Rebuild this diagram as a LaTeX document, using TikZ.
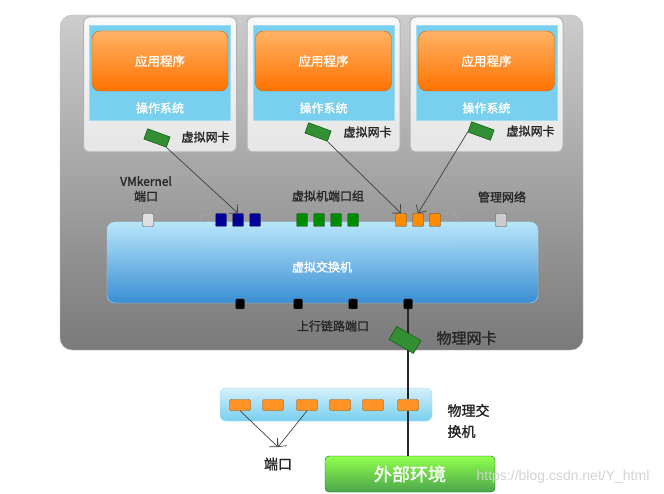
\documentclass[tikz,border=0pt]{standalone}
\usepackage{fontspec}
\setmainfont{Liberation Sans}
\newfontfamily\cjk[FakeBold=1.5]{Noto Sans CJK SC}
\newfontfamily\cjkr{Noto Sans CJK SC}
\usetikzlibrary{arrows.meta,shapes.geometric}
\definecolor{osc}{HTML}{78CFEE}
\definecolor{swtop}{HTML}{B8E6FA}
\definecolor{swbot}{HTML}{3A8ED3}
\definecolor{hostc}{HTML}{7A7A7A}
\begin{document}
\begin{tikzpicture}[x=1pt,y=-1pt,
  every node/.style={font=\cjk\fontsize{12}{14}\selectfont},
  vmbox/.style={draw=gray!60,line width=1pt,rounded corners=6pt,top color=white!95!gray,bottom color=gray!20},
  osbox/.style={fill=osc,draw=osc!70},
  appbox/.style={draw=orange!80!black,rounded corners=8pt,top color=orange!60,bottom color=orange!90!red,text=white,font=\cjk\fontsize{12.5}{14}\selectfont},
  port/.style={draw=black!70,rounded corners=1pt,minimum width=11pt,minimum height=13pt,inner sep=0pt},
  nic/.style={draw=green!30!black,fill=green!45!black!80,minimum width=24pt,minimum height=11pt,inner sep=0pt,rotate=-20},
  arr/.style={-{Straight Barb[length=6pt]},black!75,line width=0.7pt},
  lab/.style={text=black!85},
  wlab/.style={text=white}]
\useasboundingbox (0,0) rectangle (664,494);
\fill[white] (0,0) rectangle (664,494);
% outer host
\node[rounded corners=12pt,top color=gray!40,bottom color=hostc,draw=gray!50,minimum width=523pt,minimum height=335pt,inner sep=0pt] (host) at (321.5,182.5) {};
% VMs
\foreach \i/\x in {1/160,2/323.5,3/486.5}{
  \node[vmbox,minimum width=153pt,minimum height=135pt] (vm\i) at (\x,84.5) {};
  \node[osbox,minimum width=141pt,minimum height=95pt,inner sep=0pt] (os\i) at (\x,72.5) {};
  \node[wlab] (ost\i) at (\x,108) {操作系统};
  \node[appbox,minimum width=136pt,minimum height=60pt] (app\i) at (\x,61) {应用程序};
}
% vNICs
\node[nic] (nic1) at (157,138) {};
\node[lab,anchor=west] (nl1) at (178,137) {虚拟网卡};
\node[nic] (nic2) at (318,132) {};
\node[lab,anchor=west] (nl2) at (340,132) {虚拟网卡};
\node[nic] (nic3) at (481,131) {};
\node[lab,anchor=west] (nl3) at (503,131) {虚拟网卡};
% virtual switch
\node[rounded corners=8pt,top color=swtop,bottom color=swbot,draw=cyan!40,minimum width=431pt,minimum height=81pt,inner sep=0pt] (vsw) at (322.5,262.5) {};
\node[wlab] (vswt) at (322,267) {虚拟交换机};
\draw[densely dotted,rounded corners=5pt,white!70!gray] (200,214) rectangle (458,240);
% labels
\node[lab,align=center,font=\cjk\fontsize{12}{15}\selectfont] (vmk) at (146,189) {VMkernel\\端口};
\node[lab] (pg) at (328,196) {虚拟机端口组};
\node[lab] (mg) at (502,197) {管理网络};
% ports
\node[port,fill=gray!25] (pk) at (148,220) {};
\foreach \n/\x in {1/221,2/238,3/255}{\node[port,fill=blue!60!black] (b\n) at (\x,220) {};}
\foreach \n/\x in {1/302,2/319,3/336,4/353}{\node[port,fill=green!55!black] (g\n) at (\x,220) {};}
\foreach \n/\x in {1/401,2/418,3/435}{\node[port,fill=orange!90!yellow] (o\n) at (\x,220) {};}
\node[port,fill=gray!40] (pm) at (501,220) {};
% uplinks
\foreach \n/\x in {1/240,2/298,3/353,4/408}{\node[port,fill=black,minimum width=9pt,minimum height=10pt] (u\n) at (\x,304) {};}
\node[lab] (ul) at (333,326) {上行链路端口};
% physical switch
\node[rounded corners=6pt,top color=swtop!60!white,bottom color=osc,draw=cyan!40,minimum width=212pt,minimum height=33pt,inner sep=0pt] (psw) at (326,404.5) {};
\foreach \n/\x in {1/240,2/273,3/307,4/340,5/373,6/408}{\node[draw=orange!60!black,fill=orange!85,rounded corners=2pt,minimum width=21pt,minimum height=11pt,inner sep=0pt] (pp\n) at (\x,405) {};}
\node[lab,align=left,anchor=west,font=\cjk\fontsize{14}{21}\selectfont] (pswl) at (444,421) {物理交\\换机};
% external
\node[rounded corners=4pt,top color=green!50!lime!70,bottom color=green!50!black!70,draw=green!40!black,minimum width=170pt,minimum height=36pt,inner sep=0pt,text=white,font=\cjk\fontsize{18}{20}\selectfont] (ext) at (410,474) {外部环境};
% physical line
\draw[black!85,line width=2pt] (u4.south) -- (pp6.north);
\draw[black!85,line width=2pt] (pp6.south) -- (ext.north -| pp6.south);
\node[nic,rotate=-10,minimum width=28pt,minimum height=15pt] (pnic) at (405,340) {};
\node[lab,anchor=west,font=\cjk\fontsize{15}{17}\selectfont] (pnl) at (433,338) {物理网卡};
% arrows
\draw[arr] (nic1.south east) -- (b2.north);
\draw[arr] (nic2.south east) -- (o1.north);
\draw[arr] (nic3.south west) -- (o2.north);
\coordinate (pc) at (278,447);
\draw[arr] (pp1.south) -- (pc);
\draw[arr] (pp3.south) -- (pc);
\node[lab,font=\cjk\fontsize{14}{16}\selectfont] (pt) at (278,464) {端口};
\node[text=gray!35,font=\fontsize{14}{16}\selectfont] (wm) at (563,477) {https://blog.csdn.net/Y\_html};
\end{tikzpicture}
\end{document}
